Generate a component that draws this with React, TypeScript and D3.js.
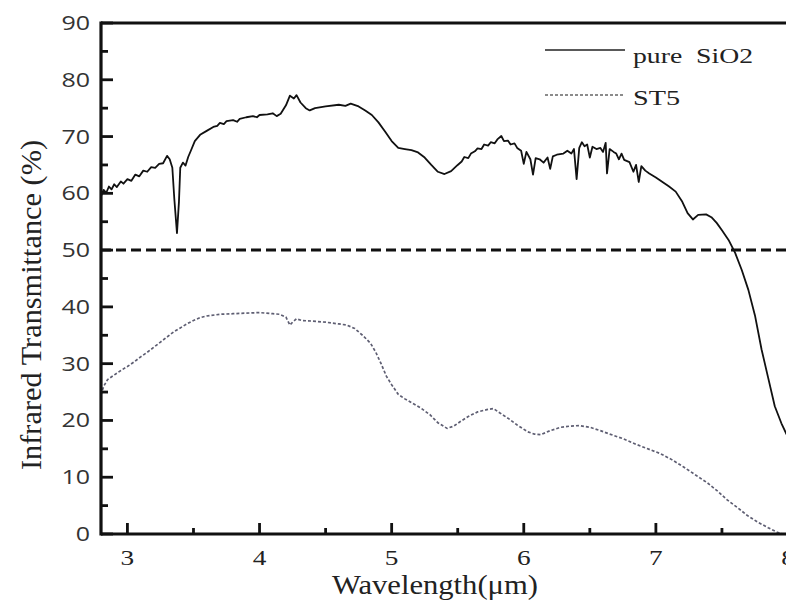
import React from "react";
import * as d3 from "d3";

const xTicks = [3, 4, 5, 6, 7, 8];
const yTicks = [0, 10, 20, 30, 40, 50, 60, 70, 80, 90];
const threshold = 50;

const seriesNames = ["pure  SiO2", "ST5"];

const pureSiO2: [number, number][] = [
  [2.80, 59.5], [2.82, 60.6], [2.84, 60.1], [2.86, 61.2], [2.88, 60.7], [2.90, 61.6], [2.92, 61.1],
  [2.95, 62.1], [2.97, 61.7], [3.00, 62.5], [3.03, 62.2], [3.06, 63.3], [3.09, 63.0], [3.12, 64.0],
  [3.15, 63.8], [3.18, 64.6], [3.21, 64.5], [3.24, 65.2], [3.27, 65.3], [3.30, 66.6], [3.32, 66.0],
  [3.34, 64.5], [3.355, 59.0], [3.375, 53.0], [3.39, 58.5], [3.40, 64.5], [3.42, 65.4], [3.44, 64.9],
  [3.46, 66.4], [3.48, 67.5], [3.51, 69.2], [3.55, 70.3], [3.60, 71.0], [3.65, 71.7], [3.68, 71.9],
  [3.70, 72.4], [3.73, 72.2], [3.75, 72.7], [3.80, 72.9], [3.83, 72.6], [3.85, 73.1], [3.90, 73.4],
  [3.95, 73.6], [3.98, 73.4], [4.00, 73.8], [4.06, 73.9], [4.10, 74.1], [4.13, 73.6], [4.16, 74.0],
  [4.20, 75.5], [4.23, 77.2], [4.26, 76.7], [4.28, 77.3], [4.31, 76.0], [4.35, 75.0], [4.38, 74.6],
  [4.42, 75.0], [4.50, 75.3], [4.60, 75.6], [4.65, 75.4], [4.69, 75.8], [4.75, 75.3], [4.80, 74.6],
  [4.85, 73.8], [4.90, 72.5], [4.95, 70.9], [5.00, 69.2], [5.05, 68.0], [5.10, 67.8], [5.15, 67.6],
  [5.20, 67.2], [5.25, 66.3], [5.30, 65.0], [5.35, 63.8], [5.40, 63.4], [5.45, 63.9], [5.50, 65.0],
  [5.53, 65.6], [5.55, 66.4], [5.58, 66.2], [5.60, 67.0], [5.63, 67.4], [5.65, 67.9], [5.68, 67.8],
  [5.70, 68.6], [5.73, 68.4], [5.75, 69.0], [5.78, 68.8], [5.80, 69.5], [5.83, 70.1], [5.85, 69.2],
  [5.88, 69.3], [5.90, 68.6], [5.93, 68.8], [5.95, 68.0], [5.98, 67.5], [6.00, 65.2],
  [6.02, 67.3], [6.05, 66.0], [6.07, 63.3], [6.09, 66.2], [6.12, 66.0], [6.15, 65.4], [6.18, 66.3],
  [6.20, 64.3], [6.22, 66.5], [6.25, 66.8], [6.30, 67.0], [6.33, 67.5], [6.36, 67.0], [6.38, 67.8],
  [6.40, 62.5], [6.42, 68.0], [6.44, 69.0], [6.46, 68.3], [6.48, 68.6], [6.50, 66.3], [6.52, 68.2],
  [6.55, 67.8], [6.58, 68.0], [6.60, 67.3], [6.62, 68.9], [6.63, 63.5], [6.65, 67.8], [6.68, 67.3],
  [6.70, 67.0], [6.72, 66.0], [6.74, 67.0], [6.76, 65.9], [6.80, 65.5], [6.83, 63.8], [6.85, 65.0],
  [6.87, 62.0], [6.89, 64.8], [6.92, 64.0], [6.95, 63.5], [7.00, 62.8], [7.05, 62.0], [7.10, 61.2],
  [7.15, 60.3], [7.20, 58.5], [7.24, 56.5], [7.28, 55.4], [7.32, 56.2], [7.38, 56.3], [7.42, 55.8],
  [7.46, 54.8], [7.50, 53.5], [7.55, 51.8], [7.60, 49.5], [7.65, 46.5], [7.70, 43.0], [7.75, 38.5],
  [7.80, 32.5], [7.85, 27.5], [7.90, 22.5], [7.95, 19.5], [8.00, 17.0],
];

const st5: [number, number][] = [
  [2.80, 24.5], [2.82, 26.0], [2.85, 27.2], [2.90, 28.0], [2.95, 28.8], [3.00, 29.5], [3.05, 30.3],
  [3.10, 31.2], [3.15, 32.0], [3.20, 32.9], [3.25, 33.8], [3.30, 34.7], [3.35, 35.6], [3.40, 36.3],
  [3.45, 37.0], [3.50, 37.6], [3.55, 38.1], [3.60, 38.4], [3.70, 38.7], [3.80, 38.8], [3.90, 38.9],
  [4.00, 39.0], [4.10, 38.8], [4.15, 38.7], [4.20, 38.2], [4.23, 36.8], [4.25, 37.3], [4.28, 37.9],
  [4.32, 37.6], [4.40, 37.5], [4.50, 37.3], [4.60, 37.0], [4.66, 36.8], [4.72, 36.2], [4.78, 35.0],
  [4.84, 33.6], [4.88, 32.0], [4.92, 30.0], [4.96, 27.8], [5.00, 26.3], [5.05, 24.6], [5.10, 23.8],
  [5.16, 23.0], [5.22, 22.2], [5.29, 21.0], [5.35, 19.6], [5.42, 18.6], [5.47, 19.0], [5.52, 19.8],
  [5.58, 20.7], [5.65, 21.5], [5.72, 21.9], [5.77, 22.1], [5.82, 21.3], [5.88, 20.4], [5.95, 19.2],
  [6.03, 18.0], [6.08, 17.6], [6.13, 17.5], [6.20, 18.2], [6.28, 18.8], [6.35, 19.0], [6.42, 19.1],
  [6.50, 18.8], [6.58, 18.2], [6.65, 17.6], [6.75, 16.8], [6.85, 15.8], [6.95, 14.9], [7.03, 14.2],
  [7.12, 13.1], [7.21, 11.8], [7.30, 10.4], [7.39, 9.0], [7.47, 7.5], [7.54, 6.0], [7.62, 4.6],
  [7.69, 3.3], [7.77, 2.1], [7.85, 1.1], [7.92, 0.3], [7.96, 0.0],
];

const W = 786;
const H = 612;
const left = 101;
const right = 788;
const top = 23;
const bottom = 534;

export default function App() {
  const x = d3.scaleLinear().domain([2.8, 8]).range([left, right]);
  const y = d3.scaleLinear().domain([0, 90]).range([bottom, top]);
  const line = d3
    .line<[number, number]>()
    .x((d) => x(d[0]))
    .y((d) => y(d[1]));

  const yMinor = d3.range(5, 90, 10);
  const xMinor = d3.range(3.5, 8, 1);
  const serif = "'Liberation Serif', 'Times New Roman', serif";
  const sans = "'Open Sans', 'DejaVu Sans', sans-serif";

  return (
    <svg
      width={W}
      height={H}
      style={{ position: "absolute", left: 0, top: 0, background: "#fff" }}
    >
      <rect x={0} y={0} width={W} height={H} fill="#fff" />
      {/* data */}
      <path d={line(st5) || ""} fill="none" stroke="#5e5e72" strokeWidth={1.7} strokeDasharray="3,2" />
      <path d={line(pureSiO2) || ""} fill="none" stroke="#111" strokeWidth={1.8} strokeLinejoin="round" />
      <line x1={left} x2={right} y1={y(threshold)} y2={y(threshold)} stroke="#111" strokeWidth={3} strokeDasharray="10,5" />

      {/* frame */}
      <line x1={left} x2={right} y1={top} y2={top} stroke="#111" strokeWidth={3.2} />
      <line x1={right} x2={right} y1={top} y2={bottom} stroke="#111" strokeWidth={3} />
      <line x1={left} x2={left} y1={top - 1.5} y2={bottom + 1.5} stroke="#111" strokeWidth={3.2} />
      <line x1={left} x2={right} y1={bottom} y2={bottom} stroke="#111" strokeWidth={3.2} />

      {/* y ticks */}
      {yTicks.map((t) => (
        <line key={"ym" + t} x1={left} x2={left + 12} y1={y(t)} y2={y(t)} stroke="#111" strokeWidth={2.8} />
      ))}
      {yMinor.map((t) => (
        <line key={"yn" + t} x1={left} x2={left + 7} y1={y(t)} y2={y(t)} stroke="#111" strokeWidth={2.8} />
      ))}
      {yTicks.map((t) => (
        <text
          key={"yl" + t}
          transform={`translate(90,${y(t) + 7}) scale(1.25,1)`}
          textAnchor="end"
          fontFamily={sans}
          fontSize={20}
          fill="#333"
        >
          {t}
        </text>
      ))}

      {/* x ticks */}
      {xTicks.map((t) => (
        <line key={"xm" + t} x1={x(t)} x2={x(t)} y1={bottom} y2={bottom - 11} stroke="#111" strokeWidth={2.8} />
      ))}
      {xMinor.map((t) => (
        <line key={"xn" + t} x1={x(t)} x2={x(t)} y1={bottom} y2={bottom - 6} stroke="#111" strokeWidth={2.8} />
      ))}
      {xTicks.map((t) => (
        <text
          key={"xl" + t}
          transform={`translate(${x(t)},565) scale(1.3,1)`}
          textAnchor="middle"
          fontFamily={serif}
          fontSize={21}
          fill="#222"
        >
          {t}
        </text>
      ))}

      {/* axis titles */}
      <text x={435} y={594} textAnchor="middle" fontFamily={serif} fontSize={27} fill="#222" textLength={206} lengthAdjust="spacingAndGlyphs">
        Wavelength(μm)
      </text>
      <text
        transform="translate(41,305) rotate(-90)"
        textAnchor="middle"
        fontFamily={serif}
        fontSize={29}
        fill="#222"
        textLength={330}
        lengthAdjust="spacingAndGlyphs"
      >
        Infrared Transmittance (%)
      </text>

      {/* legend */}
      <line x1={545} x2={625} y1={50} y2={50} stroke="#222" strokeWidth={1.5} />
      <text x={633} y={63} fontFamily={serif} fontSize={22} fill="#222" textLength={120} lengthAdjust="spacingAndGlyphs" style={{ whiteSpace: "pre" }}>
        {seriesNames[0]}
      </text>
      <line x1={545} x2={625} y1={95} y2={95} stroke="#666" strokeWidth={1.5} strokeDasharray="3,2" />
      <text x={633} y={105} fontFamily={serif} fontSize={22} fill="#222" textLength={47} lengthAdjust="spacingAndGlyphs">
        {seriesNames[1]}
      </text>
    </svg>
  );
}
